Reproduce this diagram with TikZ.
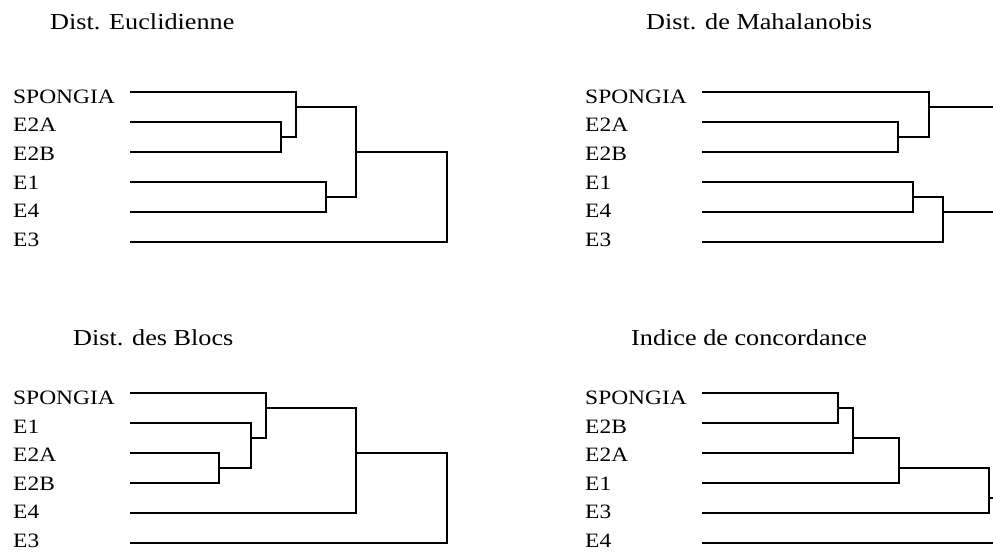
\documentclass[tikz,border=0pt]{standalone}
\usepackage{fontspec}
\setmainfont{Liberation Serif}[FakeStretch=1.15]
\usepackage{tikz}

\begin{document}
\begin{tikzpicture}[x=1pt, y=-1pt]
    % Styles
    \tikzstyle{heading} = [anchor=base west, inner sep=0pt, font=\fontsize{22.8}{25}\selectfont]
    \tikzstyle{taxon} = [anchor=base west, inner sep=0pt, font=\fontsize{20.4}{23}\selectfont]
    \tikzstyle{branch} = [draw, line width=1.4pt]

    \useasboundingbox (0,0) rectangle (993,552);

    % Titles
    \node[heading] (t-eu) at (50,29) {Dist. Euclidienne};
    \node[heading] (t-ma) at (646,29) {Dist. de Mahalanobis};
    \node[heading] (t-bl) at (73,345) {Dist. des Blocs};
    \node[heading] (t-co) at (631,345) {Indice de concordance};

    % Euclidienne: taxa
    \node[taxon] (eu-sp-t) at (13,103) {SPONGIA};
    \node[taxon] (eu-e2a-t) at (13,131.7) {E2A};
    \node[taxon] (eu-e2b-t) at (13,160.4) {E2B};
    \node[taxon] (eu-e1-t) at (13,189.1) {E1};
    \node[taxon] (eu-e4-t) at (13,217.8) {E4};
    \node[taxon] (eu-e3-t) at (13,246.5) {E3};
    \coordinate (eu-sp) at (130,92);
    \coordinate (eu-e2a) at (130,122);
    \coordinate (eu-e2b) at (130,152);
    \coordinate (eu-e1) at (130,182);
    \coordinate (eu-e4) at (130,212);
    \coordinate (eu-e3) at (130,242);
    % Euclidienne: joins
    \coordinate (eu-j1) at (281,137);
    \coordinate (eu-j2) at (296,107);
    \coordinate (eu-j3) at (326,197);
    \coordinate (eu-j4) at (356,152);
    \coordinate (eu-j5) at (447,197);

    % Mahalanobis: taxa
    \node[taxon] (ma-sp-t) at (585,103) {SPONGIA};
    \node[taxon] (ma-e2a-t) at (585,131.7) {E2A};
    \node[taxon] (ma-e2b-t) at (585,160.4) {E2B};
    \node[taxon] (ma-e1-t) at (585,189.1) {E1};
    \node[taxon] (ma-e4-t) at (585,217.8) {E4};
    \node[taxon] (ma-e3-t) at (585,246.5) {E3};
    \coordinate (ma-sp) at (702,92);
    \coordinate (ma-e2a) at (702,122);
    \coordinate (ma-e2b) at (702,152);
    \coordinate (ma-e1) at (702,182);
    \coordinate (ma-e4) at (702,212);
    \coordinate (ma-e3) at (702,242);
    % Mahalanobis: joins
    \coordinate (ma-j1) at (898,137);
    \coordinate (ma-j2) at (929,107);
    \coordinate (ma-j3) at (913,197);
    \coordinate (ma-j4) at (943,212);
    \coordinate (ma-out1) at (993,107);
    \coordinate (ma-out2) at (993,212);

    % Blocs: taxa
    \node[taxon] (bl-sp-t) at (13,404.5) {SPONGIA};
    \node[taxon] (bl-e1-t) at (13,433) {E1};
    \node[taxon] (bl-e2a-t) at (13,461.5) {E2A};
    \node[taxon] (bl-e2b-t) at (13,490) {E2B};
    \node[taxon] (bl-e4-t) at (13,518.5) {E4};
    \node[taxon] (bl-e3-t) at (13,547) {E3};
    \coordinate (bl-sp) at (130,393);
    \coordinate (bl-e1) at (130,423);
    \coordinate (bl-e2a) at (130,453);
    \coordinate (bl-e2b) at (130,483);
    \coordinate (bl-e4) at (130,513);
    \coordinate (bl-e3) at (130,543);
    % Blocs: joins
    \coordinate (bl-j1) at (219,468);
    \coordinate (bl-j2) at (251,438);
    \coordinate (bl-j3) at (266,408);
    \coordinate (bl-j4) at (356,453);
    \coordinate (bl-j5) at (447,498);

    % Concordance: taxa
    \node[taxon] (co-sp-t) at (585,404.5) {SPONGIA};
    \node[taxon] (co-e2b-t) at (585,433) {E2B};
    \node[taxon] (co-e2a-t) at (585,461.5) {E2A};
    \node[taxon] (co-e1-t) at (585,490) {E1};
    \node[taxon] (co-e3-t) at (585,518.5) {E3};
    \node[taxon] (co-e4-t) at (585,547) {E4};
    \coordinate (co-sp) at (702,393);
    \coordinate (co-e2b) at (702,423);
    \coordinate (co-e2a) at (702,453);
    \coordinate (co-e1) at (702,483);
    \coordinate (co-e3) at (702,513);
    \coordinate (co-e4) at (702,543);
    % Concordance: joins
    \coordinate (co-j1) at (838,408);
    \coordinate (co-j2) at (853,438);
    \coordinate (co-j3) at (899,468);
    \coordinate (co-j4) at (989,498);
    \coordinate (co-out1) at (993,498);
    \coordinate (co-out2) at (993,543);

    % Branches
    \draw[branch] (eu-e2a) -| (eu-j1) |- (eu-e2b);
    \draw[branch] (eu-sp) -| (eu-j2) |- (eu-j1);
    \draw[branch] (eu-e1) -| (eu-j3) |- (eu-e4);
    \draw[branch] (eu-j2) -| (eu-j4) |- (eu-j3);
    \draw[branch] (eu-j4) -| (eu-j5) |- (eu-e3);

    \draw[branch] (ma-e2a) -| (ma-j1) |- (ma-e2b);
    \draw[branch] (ma-sp) -| (ma-j2) |- (ma-j1);
    \draw[branch] (ma-e1) -| (ma-j3) |- (ma-e4);
    \draw[branch] (ma-j3) -| (ma-j4) |- (ma-e3);
    \draw[branch] (ma-j2) -- (ma-out1);
    \draw[branch] (ma-j4) -- (ma-out2);

    \draw[branch] (bl-e2a) -| (bl-j1) |- (bl-e2b);
    \draw[branch] (bl-e1) -| (bl-j2) |- (bl-j1);
    \draw[branch] (bl-sp) -| (bl-j3) |- (bl-j2);
    \draw[branch] (bl-j3) -| (bl-j4) |- (bl-e4);
    \draw[branch] (bl-j4) -| (bl-j5) |- (bl-e3);

    \draw[branch] (co-sp) -| (co-j1) |- (co-e2b);
    \draw[branch] (co-j1) -| (co-j2) |- (co-e2a);
    \draw[branch] (co-j2) -| (co-j3) |- (co-e1);
    \draw[branch] (co-j3) -| (co-j4) |- (co-e3);
    \draw[branch] (co-j4) -- (co-out1);
    \draw[branch] (co-e4) -- (co-out2);
\end{tikzpicture}
\end{document}
